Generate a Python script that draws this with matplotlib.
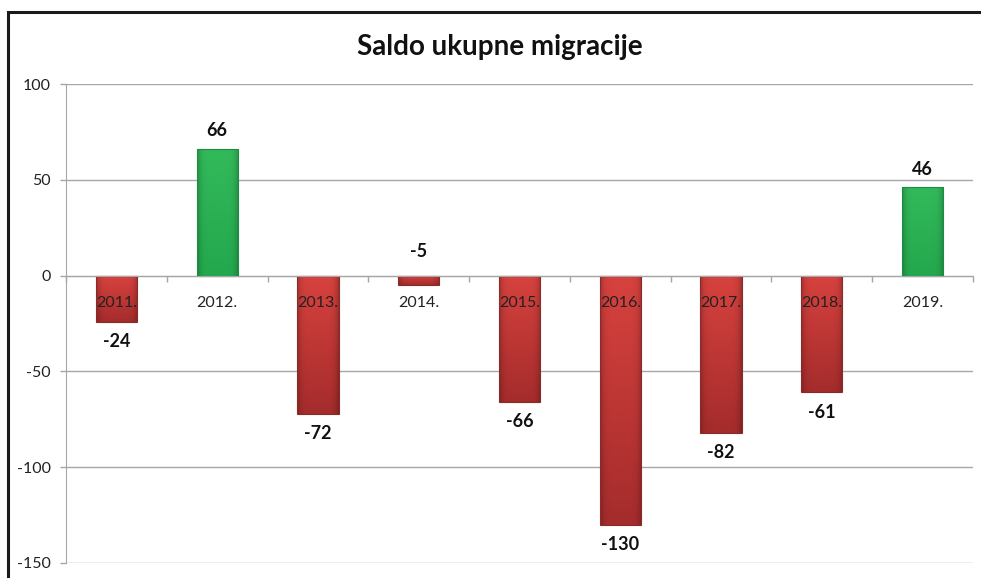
import numpy as np
import matplotlib
matplotlib.use("Agg")
import matplotlib.pyplot as plt
from matplotlib.patches import Rectangle

years = ["2011.", "2012.", "2013.", "2014.", "2015.", "2016.", "2017.", "2018.", "2019."]
values = [-24, 66, -72, -5, -66, -130, -82, -61, 46]
title = "Saldo ukupne migracije"
yticks = [-150, -100, -50, 0, 50, 100]

plt.rcParams['font.family'] = ['Lato', 'DejaVu Sans']

fig = plt.figure(figsize=(9.81, 5.78), dpi=100)
ax = fig.add_axes([66/981, 1-563/578, (973-66)/981, (563-84)/578])
ax.set_axisbelow(False)

x = np.arange(len(values))
bars = ax.bar(x, values, width=0.41, color='none', edgecolor='none', zorder=2)

def grad_img(color_top, color_bot, edge_dark=0.75, n=64):
    t = np.linspace(0, 1, n)[:, None]
    top = np.array(color_top) / 255.0
    bot = np.array(color_bot) / 255.0
    col = top[None, None, :] * (1 - t[..., None]) + bot[None, None, :] * t[..., None]
    col = np.repeat(col, n, axis=1)
    u = np.linspace(-1, 1, n)
    shade = 1 - (1 - edge_dark) * (np.abs(u) ** 6)
    col = col * shade[None, :, None]
    return np.clip(col, 0, 1)

red_img = grad_img((215, 66, 62), (165, 44, 44))
green_img = grad_img((50, 186, 90), (36, 168, 78))

for b, v in zip(bars, values):
    x0, w, h = b.get_x(), b.get_width(), b.get_height()
    img = green_img if v >= 0 else red_img
    im = ax.imshow(img, extent=(x0, x0 + w, min(0, h), max(0, h)),
                   origin='upper', aspect='auto', zorder=2, interpolation='bilinear')
    im.set_clip_path(b)
    edge = '#1e8a45' if v >= 0 else '#8a2a2a'
    ax.add_patch(Rectangle((x0, min(0, h)), w, abs(h), fill=False, edgecolor=edge,
                           linewidth=0.8, zorder=2.1))

ax.set_xlim(-0.5, len(values) - 0.5)
ax.set_ylim(-150, 100)

for yv in yticks:
    ax.axhline(yv, color='#a6a6a6', linewidth=1.0, zorder=0)

ax.set_yticks(yticks)
ax.set_yticklabels([str(v) for v in yticks], fontsize=11.5, color='#222222')
ax.tick_params(axis='y', length=4, width=1, color='#a6a6a6', pad=7)

ax.spines['top'].set_visible(False)
ax.spines['right'].set_visible(False)
ax.spines['left'].set_color('#a6a6a6')
ax.spines['bottom'].set_position(('data', 0))
ax.spines['bottom'].set_color('#a6a6a6')

ax.set_xticks(np.arange(len(values) + 1) - 0.5)
ax.set_xticklabels([])
ax.set_xticks(x, minor=True)
ax.set_xticklabels(years, minor=True, fontsize=11.5, color='#222222')
ax.tick_params(axis='x', which='major', length=4, width=1, color='#a6a6a6', direction='out')
ax.tick_params(axis='x', which='minor', length=0, pad=15)

for b, v in zip(bars, values):
    cx = b.get_x() + b.get_width() / 2
    if v >= 0 or v > -10:
        ax.annotate(str(v), (cx, max(v, 0)), xytext=(0, 7 if v >= 0 else 11),
                    textcoords='offset points', ha='center', va='bottom',
                    fontsize=13, fontweight='bold', color='#111111', zorder=5)
    else:
        ax.annotate(str(v), (cx, v), xytext=(0, -8), textcoords='offset points',
                    ha='center', va='top', fontsize=13, fontweight='bold',
                    color='#111111', zorder=5)

fig.text(500/981, 1-47/578, title, ha='center', va='center', fontsize=20,
         fontweight='bold', color='#111111')

fig.add_artist(Rectangle((8/981, -0.05), 1.2, 1 - 12/578 + 0.05, transform=fig.transFigure,
                         fill=False, edgecolor='#1a1a1a', linewidth=2.2))

fig.savefig("out.png", dpi=100)
